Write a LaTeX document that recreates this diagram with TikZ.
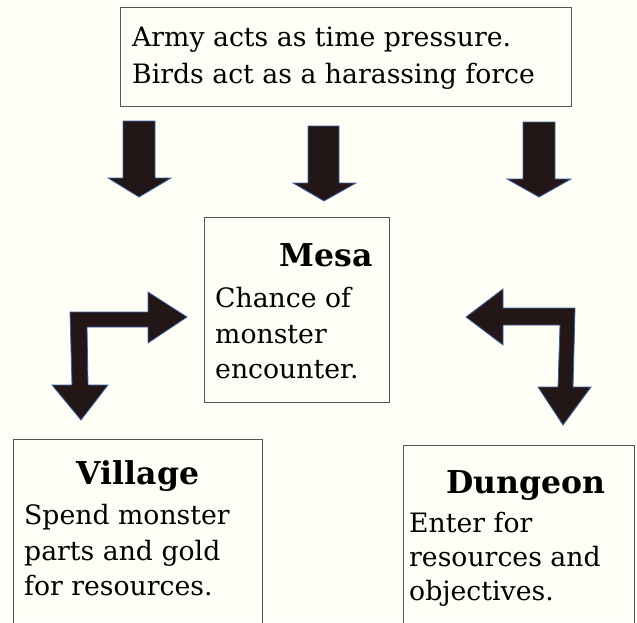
\documentclass[tikz,border=0pt]{standalone}
\usepackage{fontspec}
\setmainfont{DejaVu Serif}
\usepackage{tikz}
\usepackage{xcolor}
\usetikzlibrary{positioning}

\definecolor{paper}{HTML}{FEFEF7}
\definecolor{arrowfill}{HTML}{221616}
\definecolor{arrowedge}{HTML}{3D64A0}
\definecolor{boxedge}{HTML}{555555}

\tikzset{
  box/.style={draw=boxedge, line width=1pt},
  blockarrow/.style={fill=arrowfill, draw=arrowedge, line width=0.8pt, line join=miter},
  bodytext/.style={anchor=base west, inner sep=0pt, font=\fontsize{26.7}{32}\selectfont},
  titletext/.style={anchor=base, inner sep=0pt, font=\fontsize{31.5}{36}\selectfont\bfseries}
}

\begin{document}
\begin{tikzpicture}[x=1pt, y=-1pt]
\fill[paper] (0,0) rectangle (637,622);
\useasboundingbox (0,0) rectangle (637,622);

% top box
\draw[box] (120,7) rectangle (571,106);
\node[bodytext] (army) at (132,46) {Army acts as time pressure.};
\node[bodytext] (birds) at (132,83) {Birds act as a harassing force};

% arrows down from the top box
\filldraw[blockarrow] (123,121) -- (155,121) -- (155,178) -- (171,178) -- (139,197) -- (108,178) -- (123,178) -- cycle;
\filldraw[blockarrow] (308,126) -- (339,126) -- (339,183) -- (356,183) -- (324,201) -- (293,183) -- (308,183) -- cycle;
\filldraw[blockarrow] (523,122) -- (555,122) -- (555,179) -- (571,179) -- (539,197) -- (507,179) -- (523,179) -- cycle;

% mesa
\draw[box] (204,217) rectangle (389,402);
\node[titletext] (mesa) at (326,266) {Mesa};
\node[bodytext] (mesa1) at (215,307) {Chance of};
\node[bodytext] (mesa2) at (215,343) {monster};
\node[bodytext] (mesa3) at (215,378) {encounter.};

% bent arrows
\filldraw[blockarrow] (187,317) -- (148,292) -- (148,312) -- (70,312) -- (72,385) -- (52,385) -- (81,420) -- (108,385) -- (88,385) -- (87,327) -- (148,327) -- (148,343) -- cycle;
\filldraw[blockarrow] (466,317) -- (503,289) -- (503,308) -- (575,308) -- (573,387) -- (591,387) -- (563,425) -- (538,387) -- (558,387) -- (560,325) -- (503,325) -- (503,345) -- cycle;

% village
\draw[box] (13,630) -- (13,439) -- (262,439) -- (262,630);
\node[titletext] (village) at (138,484) {Village};
\node[bodytext] (village1) at (24,524) {Spend monster};
\node[bodytext] (village2) at (24,560) {parts and gold};
\node[bodytext] (village3) at (24,595) {for resources.};

% dungeon
\draw[box] (403,630) -- (403,445) -- (634,445) -- (634,630);
\node[titletext] (dungeon) at (526,493) {Dungeon};
\node[bodytext] (dungeon1) at (409,532) {Enter for};
\node[bodytext] (dungeon2) at (409,566) {resources and};
\node[bodytext] (dungeon3) at (409,600) {objectives.};
\end{tikzpicture}
\end{document}
